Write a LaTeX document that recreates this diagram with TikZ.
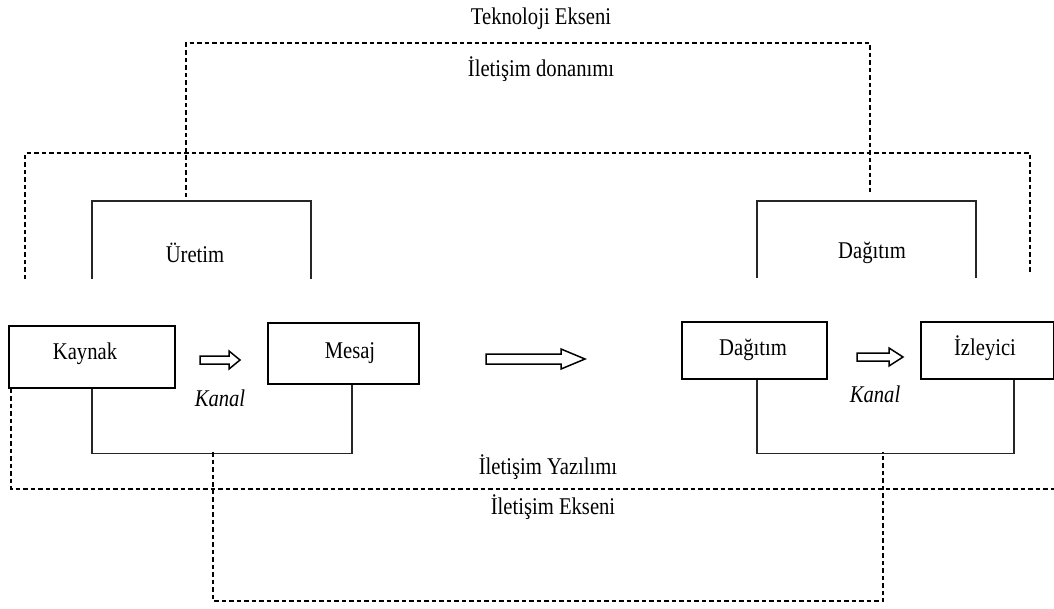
\documentclass[tikz,border=0pt]{standalone}
\usepackage{fontspec}
\setmainfont[FakeStretch=0.86]{Liberation Serif}
\usetikzlibrary{calc}
\begin{document}
\begin{tikzpicture}[x=1pt,y=-1pt,
  every node/.style={font=\fontsize{24}{28}\selectfont},
  box/.style={draw,line width=1.6pt,rectangle,inner sep=0pt,anchor=north west},
  label/.style={inner sep=0pt},
  frame/.style={line width=1.6pt,draw=black!85},
  axis/.style={line width=1.4pt,dash pattern=on 4.5pt off 3pt},
  hollow/.style={line width=1.5pt,fill=white,line join=miter}]
\useasboundingbox (0,0) rectangle (1054,608);

% process boxes
\node[box,minimum width=166,minimum height=62] (kaynak) at (8,325) {};
\node[label] (tkaynak) at (85,354) {Kaynak};
\node[box,minimum width=151,minimum height=61] (mesaj) at (267,322) {};
\node[label] (tmesaj) at (350,353) {Mesaj};
\node[box,minimum width=145,minimum height=57] (dagitimbox) at (681,321) {};
\node[label] (tdagitim) at (753,350) {Dağıtım};
\node[box,minimum width=133,minimum height=57] (izleyici) at (920,321) {};
\node[label] (tizleyici) at (985,348) {İzleyici};

% channel labels
\node[label,font=\fontsize{24}{28}\selectfont\itshape] (kanal1) at (220,398) {Kanal};
\node[label,font=\fontsize{24}{28}\selectfont\itshape] (kanal2) at (875,394) {Kanal};

% axis and layer labels
\node[label] (tekeks) at (541,19) {Teknoloji Ekseni};
\node[label] (donanim) at (541,69) {İletişim donanımı};
\node[label] (uretim) at (195,253) {Üretim};
\node[label] (dagitim) at (872,253) {Dağıtım};
\node[label] (yazilim) at (548,467) {İletişim Yazılımı};
\node[label] (ileteks) at (553,507) {İletişim Ekseni};

% hollow block arrows
\draw[hollow] (200,356) -- (229,356) -- (229,351) -- (240,360) -- (229,369) -- (229,364) -- (200,364) -- cycle;
\draw[hollow] (486,354) -- (561,354) -- (561,349) -- (585,359) -- (561,369) -- (561,364) -- (486,364) -- cycle;
\draw[hollow] (857,353) -- (889,353) -- (889,348) -- (903,357) -- (889,366) -- (889,361) -- (857,361) -- cycle;

% upper brackets
\draw[frame] (92,279) -- (92,201) -- (311,201) -- (311,279);
\draw[frame] (757,278) -- (757,201) -- (976,201) -- (976,278);

% lower brackets joining the boxes
\draw[frame] ([xshift=84pt]kaynak.south west) -- ++(0,65) -| ([xshift=85pt]mesaj.south west);
\draw[frame] ([xshift=76pt]dagitimbox.south west) -- ++(0,74) -| ([xshift=94pt]izleyici.south west);

% technology axis
\draw[axis] (186,197) -- (186,43) -- (870,43) -- (870,193);
\draw[axis] (25,279) -- (25,153) -- (1030,153) -- (1030,274);

% communication axis
\draw[axis] ([xshift=3pt]kaynak.south west) |- (1054,489);
\draw[axis] (213,452) -- (213,601) -- (883,601) -- (883,452);
\end{tikzpicture}
\end{document}
